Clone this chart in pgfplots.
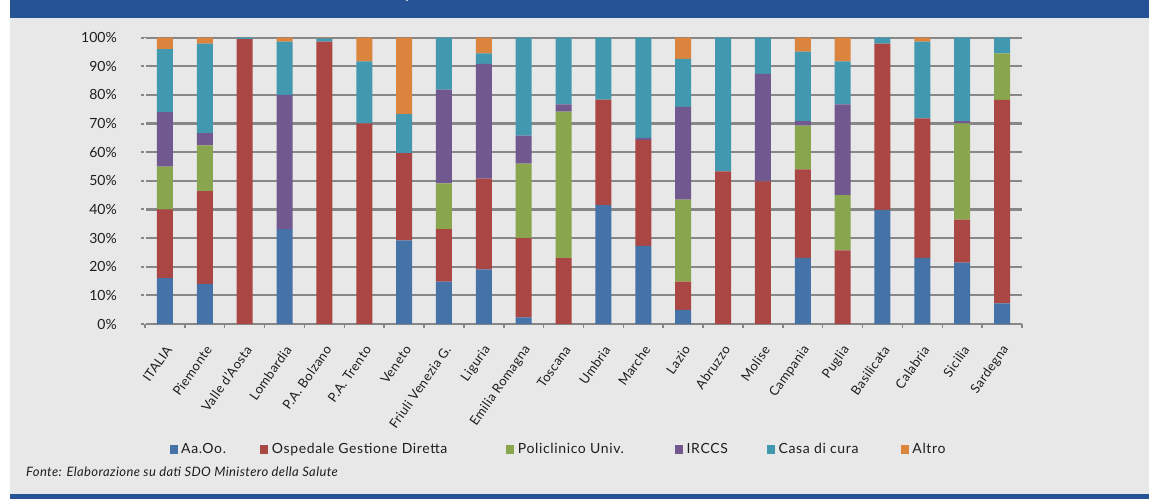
\documentclass[border=0pt]{standalone}
\usepackage{fontspec}
\setmainfont{Lato}
\usepackage{pgfplots}
\usepackage{pgfplotstable}
\pgfplotsset{compat=1.18}

\definecolor{caao}{HTML}{4572A7}
\definecolor{cogd}{HTML}{AA4643}
\definecolor{cpol}{HTML}{89A54E}
\definecolor{circcs}{HTML}{71588F}
\definecolor{ccasa}{HTML}{4198AF}
\definecolor{caltro}{HTML}{DB843D}
\definecolor{panelgray}{HTML}{E8E8E8}
\definecolor{gridgray}{HTML}{878787}
\definecolor{bandblue}{HTML}{255395}
\definecolor{labeltext}{HTML}{1E1E1E}

% Share of hospital discharges by type of structure, per region (percent)
\pgfplotstableread{
x  aao   ogd   pol   irccs  casa  altro
0  16.0  24.0  15.0  19.0   22.0  4.0
1  14.0  32.4  16.0  4.3    31.2  2.1
2  0.0   99.5  0.0   0.0    0.5   0.0
3  33.1  0.0   0.0   46.9   18.6  1.4
4  0.0   98.6  0.0   0.0    1.2   0.2
5  0.0   70.1  0.0   0.0    21.6  8.3
6  29.2  30.5  0.0   0.0    13.6  26.7
7  14.8  18.3  16.0  32.8   18.1  0.0
8  19.1  31.7  0.0   40.1   3.6   5.5
9  2.3   27.7  26.0  9.8    34.2  0.0
10 0.0   23.0  51.2  2.5    23.3  0.0
11 41.5  36.9  0.0   0.0    21.6  0.0
12 27.3  36.9  0.0   0.8    35.0  0.0
13 4.9   9.9   28.6  32.4   16.8  7.4
14 0.0   53.3  0.0   0.0    46.7  0.0
15 0.0   49.8  0.0   37.6   12.6  0.0
16 23.1  30.9  15.3  1.6    24.2  4.9
17 0.0   25.7  19.3  31.7   15.0  8.3
18 39.9  58.0  0.0   0.0    2.1   0.0
19 23.1  48.7  0.0   0.0    26.8  1.4
20 21.4  15.1  33.6  0.8    29.1  0.0
21 7.2   71.1  16.2  0.0    5.5   0.0
}\datatable

\begin{document}
\begin{tikzpicture}[x=1pt,y=1pt]
\useasboundingbox (0,0) rectangle (1149,499);
\fill[white] (0,0) rectangle (1149,499);
\fill[panelgray] (10,0) rectangle (1149,499);
\fill[bandblue] (10,481.3) rectangle (1149,499);
\fill[bandblue] (10,0) rectangle (1149,5);
\node[white, font=\fontsize{17}{17}\selectfont, anchor=base, inner sep=0pt] at (410,500) {p};
\node[anchor=base west, inner sep=0pt, text=labeltext,
      font=\fontsize{13}{13}\selectfont\itshape\addfontfeatures{LetterSpace=3}] at (26,23)
      {Fonte: Elaborazione su dati SDO Ministero della Salute};

\begin{axis}[
  at={(145pt,175pt)}, anchor=south west,
  scale only axis, width=877pt, height=286.3pt,
  xmin=-0.5, xmax=21.5, ymin=0, ymax=100,
  ybar stacked, bar width=16pt,
  axis x line*=bottom, axis y line*=left,
  x axis line style={-, draw=gridgray, line width=2.6pt},
  y axis line style={-, draw=gridgray, line width=0.9pt, double=panelgray, double distance=1.1pt},
  ytick={0,10,...,100},
  yticklabel={\pgfmathprintnumber{\tick}\%},
  /pgf/number format/assume math mode=true,
  yticklabel style={anchor=east, inner sep=0pt, xshift=-24pt, text=labeltext,
                    font=\fontsize{14}{14}\selectfont},
  ymajorgrids,
  major grid style={draw=gridgray, line width=2.2pt},
  tick align=outside,
  major tick length=4pt,
  ytick style={draw=gridgray, line width=2pt},
  xtick style={draw=gridgray, line width=1.5pt},
  xtick={-0.5,0.5,...,21.5},
  x tick label as interval,
  xticklabels={ITALIA,Piemonte,Valle d'Aosta,Lombardia,P.A. Bolzano,P.A. Trento,Veneto,Friuli Venezia G.,Liguria,Emilia Romagna,Toscana,Umbria,Marche,Lazio,Abruzzo,Molise,Campania,Puglia,Basilicata,Calabria,Sicilia,Sardegna},
  xticklabel style={xshift=4pt, yshift=-19pt, rotate=55, anchor=east, inner sep=0pt,
                    text=labeltext, font=\fontsize{13}{13}\selectfont\addfontfeatures{LetterSpace=3}},
  legend columns=6,
  legend style={at={(0.0279,-0.4366)}, anchor=west, draw=none, fill=none,
                inner sep=0pt, column sep=0pt, text=labeltext,
                font=\fontsize{14}{14}\selectfont\addfontfeatures{LetterSpace=4.5},
                nodes={inner sep=0pt}},
  legend image code/.code={\fill[#1] (0pt,-4.5pt) rectangle (8pt,4.5pt);},
]
\addplot[fill=caao, draw=none] table[x=x, y=aao] {\datatable};
\addplot[fill=cogd, draw=none] table[x=x, y=ogd] {\datatable};
\addplot[fill=cpol, draw=none] table[x=x, y=pol] {\datatable};
\addplot[fill=circcs, draw=none] table[x=x, y=irccs] {\datatable};
\addplot[fill=ccasa, draw=none] table[x=x, y=casa] {\datatable};
\addplot[fill=caltro, draw=none] table[x=x, y=altro] {\datatable};
\addlegendentry{\makebox[82.7pt][l]{\hspace{3.5pt}Aa.Oo.}}
\addlegendentry{\makebox[238.1pt][l]{\hspace{3.5pt}Ospedale Gestione Diretta}}
\addlegendentry{\makebox[160.7pt][l]{\hspace{3.5pt}Policlinico Univ.}}
\addlegendentry{\makebox[84pt][l]{\hspace{3.5pt}IRCCS}}
\addlegendentry{\makebox[125.8pt][l]{\hspace{3.5pt}Casa di cura}}
\addlegendentry{\makebox[40pt][l]{\hspace{3.5pt}Altro}}
\end{axis}
\end{tikzpicture}
\end{document}
